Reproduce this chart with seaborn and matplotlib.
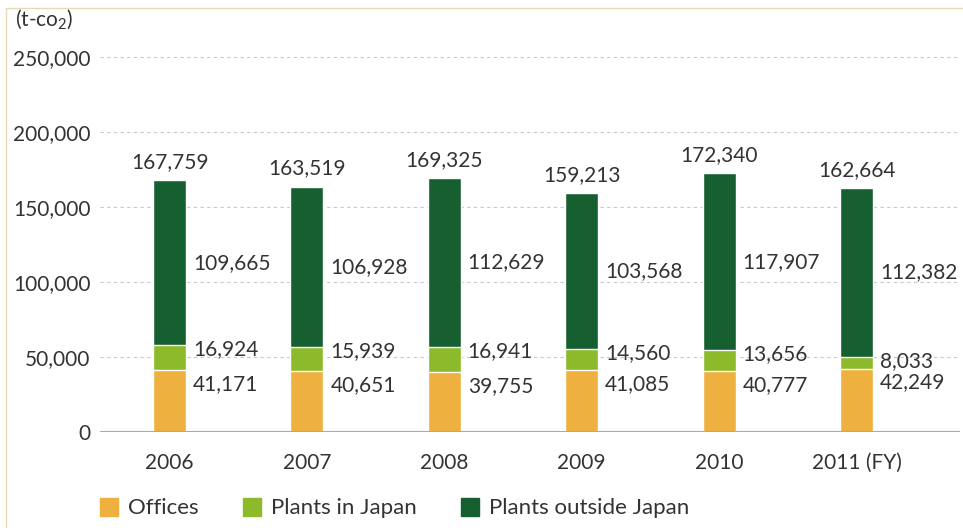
import matplotlib.pyplot as plt
import matplotlib.lines as mlines
import seaborn as sns
import pandas as pd
from matplotlib.patches import Patch

# data (t-CO2)
years = ['2006', '2007', '2008', '2009', '2010', '2011 (FY)']
offices = [41171, 40651, 39755, 41085, 40777, 42249]
plants_japan = [16924, 15939, 16941, 14560, 13656, 8033]
plants_outside = [109665, 106928, 112629, 103568, 117907, 112382]
totals = [167759, 163519, 169325, 159213, 172340, 162664]

c_off = '#EEB13F'
c_pj = '#8CBA2A'
c_po = '#165F31'
txt = '#333333'

sns.set_style('white')
plt.rcParams['font.family'] = ['Lato', 'DejaVu Sans']
plt.rcParams['mathtext.default'] = 'regular'

df = pd.DataFrame({'year': years, 'off': offices, 'pj': plants_japan, 'po': plants_outside})
df['low2'] = df['off'] + df['pj']
df['top'] = df['low2'] + df['po']

fig = plt.figure(figsize=(9.63, 5.28), dpi=100)
ax = fig.add_axes([100 / 963, 1 - 432 / 528, 860 / 963, (432 - 34.5) / 528])

# stacked bars by overlaying cumulative sums
sns.barplot(data=df, x='year', y='top', color=c_po, width=0.24, saturation=1, ax=ax)
sns.barplot(data=df, x='year', y='low2', color=c_pj, width=0.24, saturation=1, ax=ax)
sns.barplot(data=df, x='year', y='off', color=c_off, width=0.24, saturation=1, ax=ax)

ax.set_ylim(0, 265000)
ax.set_xlim(-0.506, 5.753)
ax.set_yticks(range(0, 250001, 50000))
ax.set_yticklabels([f'{v:,}' for v in range(0, 250001, 50000)])
ax.tick_params(axis='both', length=0, labelsize=15, colors=txt)
ax.tick_params(axis='y', pad=7)
ax.tick_params(axis='x', pad=15)
ax.set_xlabel('')
ax.set_ylabel('')
for s in ax.spines.values():
    s.set_visible(False)

for v in range(50000, 250001, 50000):
    ax.axhline(v, color='#c8c8c8', lw=0.8, ls=(0, (3, 3)), zorder=0)
ax.axhline(0, color='#aaaaaa', lw=1.5, zorder=3)

# value labels
for i in range(len(years)):
    ax.annotate(f'{totals[i]:,}', (i, df['top'][i]), xytext=(0, 6), textcoords='offset points',
                ha='center', va='bottom', fontsize=15, color=txt)
    ax.annotate(f'{plants_outside[i]:,}', (i + 0.17, df['low2'][i] + plants_outside[i] / 2),
                ha='left', va='center', fontsize=15, color=txt)
    ax.annotate(f'{plants_japan[i]:,}', (i + 0.17, df['low2'][i]), xytext=(0, -3),
                textcoords='offset points', ha='left', va='center', fontsize=15, color=txt)
    ax.annotate(f'{offices[i]:,}', (i + 0.17, offices[i]), xytext=(0, -10),
                textcoords='offset points', ha='left', va='center', fontsize=15, color=txt)

fig.text(15 / 963, 1 - 19 / 528, '(t-co$_2$)', fontsize=15, color=txt, va='center', ha='left')

handles = [Patch(color=c_off, label='Offices'),
           Patch(color=c_pj, label='Plants in Japan'),
           Patch(color=c_po, label='Plants outside Japan')]
fig.legend(handles=handles, loc='center left', bbox_to_anchor=(100 / 963, 1 - 508 / 528), ncol=3,
           frameon=False, fontsize=16, handlelength=0.8, handleheight=0.9, handletextpad=0.45,
           columnspacing=2.0, borderpad=0, borderaxespad=0, labelcolor=txt)

# thin beige frame on the left and top
fig.add_artist(mlines.Line2D([6 / 963, 6 / 963], [0, 1 - 8 / 528], color='#e6d8b8', lw=1))
fig.add_artist(mlines.Line2D([6 / 963, 1], [1 - 8 / 528, 1 - 8 / 528], color='#e6d8b8', lw=1))

fig.savefig('out.png', dpi=100)
